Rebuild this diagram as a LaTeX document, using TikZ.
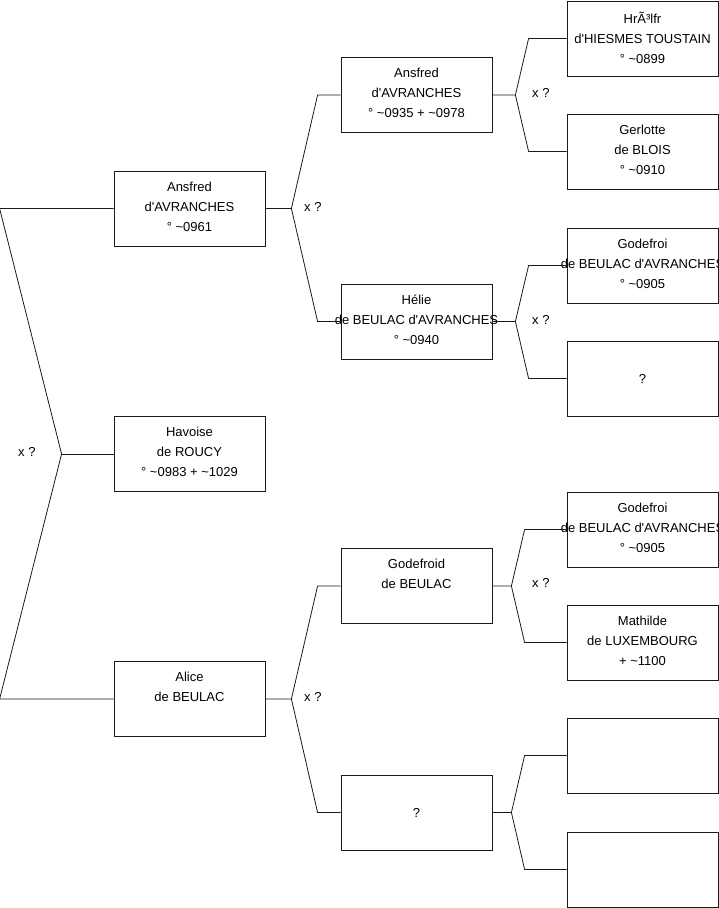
\documentclass[tikz,border=0pt]{standalone}
\usepackage{fontspec}
\setmainfont{Liberation Sans}[Ligatures=TeXOff]
\usetikzlibrary{positioning,calc}
\definecolor{ink}{HTML}{1A1A1A}
\tikzset{
  pbox/.style={draw=ink,line width=0.8pt,minimum width=151pt,minimum height=75pt,inner sep=0pt},
  ptxt/.style={anchor=north,align=center,inner sep=0pt,font=\fontsize{13}{20}\selectfont},
  link/.style={draw=ink,line width=0.8pt},
  xq/.style={anchor=west,inner sep=0pt,font=\fontsize{13}{20}\selectfont},
}

\begin{document}
\begin{tikzpicture}[x=1pt,y=-1pt]
  \useasboundingbox (0,0) rectangle (719,908);
  % first generation
  \node[pbox] (ans1) at (189.5,208.5) {};
  \node[pbox] (hav) at (189.5,454) {};
  \node[pbox] (ali) at (189.5,699) {};
  \node[ptxt] (ans1t) at ([yshift=-11pt]ans1.north) {Ansfred\\d'AVRANCHES\\° \textasciitilde0961};
  \node[ptxt] (havt) at ([yshift=-11pt]hav.north) {Havoise\\de ROUCY\\° \textasciitilde0983 + \textasciitilde1029};
  \node[ptxt] (alit) at ([yshift=-11pt]ali.north) {Alice\\de BEULAC};
  % second generation
  \node[pbox] (ans2) at (416.5,95) {};
  \node[pbox] (hel) at (416.5,321.5) {};
  \node[pbox] (god) at (416.5,586) {};
  \node[pbox] (unk2) at (416.5,812.5) {};
  \node[ptxt] (ans2t) at ([yshift=-11pt]ans2.north) {Ansfred\\d'AVRANCHES\\° \textasciitilde0935 + \textasciitilde0978};
  \node[ptxt] (helt) at ([yshift=-11pt]hel.north) {Hélie\\de BEULAC d'AVRANCHES\\° \textasciitilde0940};
  \node[ptxt] (godt) at ([yshift=-11pt]god.north) {Godefroid\\de BEULAC};
  \node[font=\fontsize{13}{20}\selectfont,inner sep=0pt] (unk2t) at (unk2.center) {?};
  % third generation
  \node[pbox] (hro) at (642.5,38.5) {};
  \node[pbox] (ger) at (642.5,151.5) {};
  \node[pbox] (gfa) at (642.5,265.5) {};
  \node[pbox] (unk3) at (642.5,378.5) {};
  \node[pbox] (gfb) at (642.5,529.5) {};
  \node[pbox] (mat) at (642.5,642.5) {};
  \node[pbox] (emp1) at (642.5,755.5) {};
  \node[pbox] (emp2) at (642.5,869.5) {};
  \node[ptxt] (hrot) at ([yshift=-11pt]hro.north) {HrÃ³lfr\\d'HIESMES TOUSTAIN\\° \textasciitilde0899};
  \node[ptxt] (gert) at ([yshift=-11pt]ger.north) {Gerlotte\\de BLOIS\\° \textasciitilde0910};
  \node[ptxt] (gfat) at ([yshift=-11pt]gfa.north) {Godefroi\\de BEULAC d'AVRANCHES\\° \textasciitilde0905};
  \node[font=\fontsize{13}{20}\selectfont,inner sep=0pt] (unk3t) at (unk3.center) {?};
  \node[ptxt] (gfbt) at ([yshift=-11pt]gfb.north) {Godefroi\\de BEULAC d'AVRANCHES\\° \textasciitilde0905};
  \node[ptxt] (matt) at ([yshift=-11pt]mat.north) {Mathilde\\de LUXEMBOURG\\+ \textasciitilde1100};
  % forks
  \draw[link] (hav.west) -- ++(-52,0) coordinate (f0);
  \draw[link] (f0) -- ([xshift=-114pt]ans1.west) -- (ans1.west);
  \draw[link] (f0) -- ([xshift=-114pt]ali.west) -- (ali.west);
  \draw[link] (ans1.east) -- ++(26,0) coordinate (f1) -- ([xshift=-23pt]ans2.west) -- (ans2.west);
  \draw[link] (f1) -- ([xshift=-23pt]hel.west) -- (hel.west);
  \draw[link] (ali.east) -- ++(26,0) coordinate (f2) -- ([xshift=-23pt]god.west) -- (god.west);
  \draw[link] (f2) -- ([xshift=-23pt]unk2.west) -- (unk2.west);
  \draw[link] (ans2.east) -- ++(23,0) coordinate (f3) -- ([xshift=-38pt]hro.west) -- (hro.west);
  \draw[link] (f3) -- ([xshift=-38pt]ger.west) -- (ger.west);
  \draw[link] (hel.east) -- ++(23,0) coordinate (f4) -- ([xshift=-38pt]gfa.west) -- (gfa.west);
  \draw[link] (f4) -- ([xshift=-38pt]unk3.west) -- (unk3.west);
  \draw[link] (god.east) -- ++(19,0) coordinate (f5) -- ([xshift=-42pt]gfb.west) -- (gfb.west);
  \draw[link] (f5) -- ([xshift=-42pt]mat.west) -- (mat.west);
  \draw[link] (unk2.east) -- ++(19,0) coordinate (f6) -- ([xshift=-42pt]emp1.west) -- (emp1.west);
  \draw[link] (f6) -- ([xshift=-42pt]emp2.west) -- (emp2.west);
  % marriage marks
  \node[xq] (x0) at (18,452) {x ?};
  \node[xq] (x1) at (304,207) {x ?};
  \node[xq] (x2) at (304,697) {x ?};
  \node[xq] (x3) at (532,93) {x ?};
  \node[xq] (x4) at (532,320) {x ?};
  \node[xq] (x5) at (532,583) {x ?};
\end{tikzpicture}
\end{document}
